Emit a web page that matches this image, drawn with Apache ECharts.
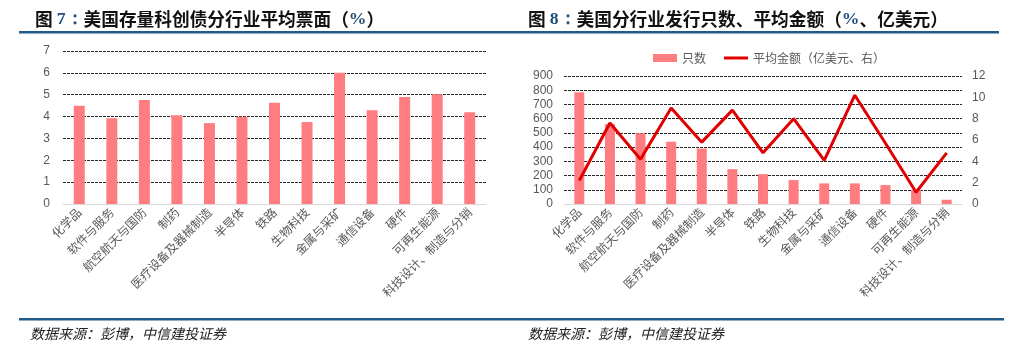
<!DOCTYPE html>
<html><head><meta charset="utf-8">
<script src="https://cdn.jsdelivr.net/npm/echarts@6/dist/echarts.min.js"></script>
<style>html,body{margin:0;padding:0;background:#fff}#c{width:1032px;height:359px}</style>
</head><body><div id="c"></div>
<script>
const categories = ['化学品','软件与服务','航空航天与国防','制药','医疗设备及器械制造','半导体','铁路','生物科技','金属与采矿','通信设备','硬件','可再生能源','科技设计、制造与分销'];
const couponValues = [4.5, 3.92, 4.76, 4.06, 3.7, 3.99, 4.63, 3.75, 6.0, 4.29, 4.9, 5.02, 4.2];
const issueCounts = [785, 562, 497, 438, 390, 245, 210, 168, 145, 145, 133, 100, 30];
const avgAmounts = [2.2, 7.6, 4.2, 9.0, 5.8, 8.8, 4.8, 8.0, 4.1, 10.2, 5.7, 1.1, 4.8];
const leftTicks = {min: 0, max: 7, interval: 1};
const rightTicksL = {min: 0, max: 900, interval: 100};
const rightTicksR = {min: 0, max: 12, interval: 2};

const FONT = '"Liberation Sans", "Noto Sans CJK SC", sans-serif';
const gray = '#595959';
const grid = {show: true, lineStyle: {color: '#262626', type: [3, 1], width: 1}};
const axisLab = {color: gray, fontSize: 12, fontFamily: FONT};
const catAxis = (gi) => ({
  type: 'category', gridIndex: gi, data: categories,
  axisLine: {lineStyle: {color: '#d9d9d9'}}, axisTick: {show: false},
  axisLabel: {rotate: 45, interval: 0, color: gray, fontSize: 12, fontFamily: '"Noto Sans CJK SC", sans-serif', margin: 6}
});
const titleRich = {
  b: {fontSize: 17.7, fontWeight: 'bold', color: '#111', fontFamily: '"Noto Sans CJK SC", sans-serif'},
  n: {fontSize: 17.7, fontWeight: 'bold', color: '#1F4E79', fontFamily: '"Liberation Serif", serif'}
};

const chart = echarts.init(document.getElementById('c'), null, {renderer: 'canvas'});
chart.setOption({
  animation: false,
  title: [
    {text: '{b|图 }{n|7：}{b|美国存量科创债分行业平均票面（}{n|%}{b|）}', left: 30, top: 5, textStyle: {rich: titleRich}},
    {text: '{b|图 }{n|8：}{b|美国分行业发行只数、平均金额（}{n|%}{b|、亿美元）}', left: 523, top: 5, textStyle: {rich: titleRich}}
  ],
  graphic: [
    {type: 'rect', shape: {x: 19, y: 31, width: 980, height: 2.5}, style: {fill: '#1F5C8B'}},
    {type: 'rect', shape: {x: 19, y: 318, width: 985, height: 2.5}, style: {fill: '#1F5C8B'}},
    {type: 'text', left: 30, top: 327, style: {text: '数据来源：彭博，中信建投证券', fill: '#222', font: 'italic 14px "Noto Sans CJK SC", sans-serif'}},
    {type: 'text', left: 528, top: 327, style: {text: '数据来源：彭博，中信建投证券', fill: '#222', font: 'italic 14px "Noto Sans CJK SC", sans-serif'}}
  ],
  legend: {
    left: 648, top: 47, itemWidth: 24, itemHeight: 8, itemGap: 18,
    textStyle: {color: gray, fontSize: 12, fontFamily: '"Noto Sans CJK SC", sans-serif'},
    data: [{name: '只数', icon: 'rect'},
           {name: '平均金额（亿美元、右）', icon: 'path://M0,0 L24,0 L24,3 L0,3 Z', itemStyle: {color: '#E00000'}}]
  },
  grid: [
    {left: 63, right: 546, top: 51, bottom: 155},
    {left: 564, right: 70, top: 76, bottom: 155}
  ],
  xAxis: [catAxis(0), catAxis(1)],
  yAxis: [
    {type: 'value', gridIndex: 0, min: leftTicks.min, max: leftTicks.max, interval: leftTicks.interval,
     axisLine: {show: false}, axisTick: {show: false}, axisLabel: Object.assign({margin: 13}, axisLab), splitLine: grid},
    {type: 'value', gridIndex: 1, min: rightTicksL.min, max: rightTicksL.max, interval: rightTicksL.interval,
     axisLine: {show: false}, axisTick: {show: false}, axisLabel: Object.assign({margin: 11}, axisLab), splitLine: grid},
    {type: 'value', gridIndex: 1, position: 'right', min: rightTicksR.min, max: rightTicksR.max, interval: rightTicksR.interval,
     axisLine: {show: false}, axisTick: {show: false}, axisLabel: Object.assign({margin: 10}, axisLab), splitLine: {show: false}}
  ],
  series: [
    {name: '票面', type: 'bar', xAxisIndex: 0, yAxisIndex: 0, data: couponValues, barWidth: 11, itemStyle: {color: '#FF7C80'}},
    {name: '只数', type: 'bar', xAxisIndex: 1, yAxisIndex: 1, data: issueCounts, barWidth: 10, itemStyle: {color: '#FF7C80'}},
    {name: '平均金额（亿美元、右）', type: 'line', xAxisIndex: 1, yAxisIndex: 2, data: avgAmounts, symbol: 'none',
     lineStyle: {color: '#E00000', width: 3}, itemStyle: {color: '#E00000'}, z: 5}
  ]
});
</script></body></html>
